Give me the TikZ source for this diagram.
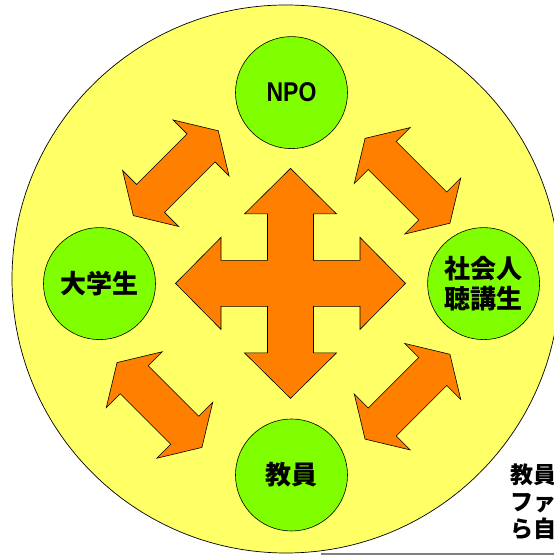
\documentclass[tikz,border=0pt]{standalone}
\usepackage{fontspec}
\setmainfont{Liberation Sans}
\newfontfamily\cjk{Noto Sans CJK JP}
\definecolor{myyellow}{RGB}{255,255,102}
\definecolor{mygreen}{RGB}{128,255,0}
\definecolor{myorange}{RGB}{255,128,0}
\newcommand\dblarrowshape[2]{%
  \draw[blockarrow, shift={#1}, rotate=#2]
    (60,0) -- (35.7,39.6) -- (35.7,19.8) -- (-35.7,19.8) -- (-35.7,39.6)
    -- (-60,0) -- (-35.7,-39.6) -- (-35.7,-19.8) -- (35.7,-19.8) -- (35.7,-39.6) -- cycle;}
\begin{document}
\begin{tikzpicture}[x=1pt,y=1pt,
  bigdisc/.style={circle, draw=black, line width=0.7pt, fill=myyellow, minimum size=548pt, inner sep=0pt},
  party/.style={circle, draw=black, line width=0.6pt, fill=mygreen, minimum size=112pt, inner sep=0pt, align=center, font=\cjk\bfseries\fontsize{26}{30}\selectfont},
  blockarrow/.style={draw=black, line width=0.6pt, fill=myorange, line join=miter},
  note/.style={anchor=west, align=left, inner sep=0pt, font=\cjk\bfseries\fontsize{23}{27}\selectfont}]
\useasboundingbox (0,0) rectangle (554,557);
\fill[white] (0,0) rectangle (554,557);
\clip (0,0) rectangle (554,557);
\node[bigdisc] (disc) at (286,278) {};
% green circles
\node[party, font=\bfseries\fontsize{23}{27}\selectfont] (npo) at (291.5,464.4) {\scalebox{1}[1.18]{NPO}};
\node[party] (univ) at (99.5,273.4) {大学生};
\node[party] (adult) at (483.6,273.4) {社会人\\聴講生};
\node[party] (teacher) at (291.5,82) {教員};
% central cross
\begin{scope}[shift={(290.5,273.6)}]
\draw[blockarrow] (0,115) -- (46,69.5) -- (23,69.5) -- (23,23) -- (69.5,23) -- (69.5,46)
  -- (115,0) -- (69.5,-46) -- (69.5,-23) -- (23,-23) -- (23,-69.5) -- (46,-69.5)
  -- (0,-115) -- (-46,-69.5) -- (-23,-69.5) -- (-23,-23) -- (-69.5,-23) -- (-69.5,-46)
  -- (-115,0) -- (-69.5,46) -- (-69.5,23) -- (-23,23) -- (-23,69.5) -- (-46,69.5) -- cycle;
\end{scope}
% diagonal double arrows
\dblarrowshape{(175.8,383.8)}{45}
\dblarrowshape{(407.5,376.2)}{-45}
\dblarrowshape{(159.5,152)}{-45}
\dblarrowshape{(407.5,160.3)}{45}
% cut-off note at the lower right
\node[note] (memo) at (510,55) {教員\\ファ\\ら自};
\coordinate (lineL) at (321,3);
\coordinate (lineR) at (554,3);
\draw[gray, line width=1.5pt] (lineL) -- (lineR);
\end{tikzpicture}
\end{document}
